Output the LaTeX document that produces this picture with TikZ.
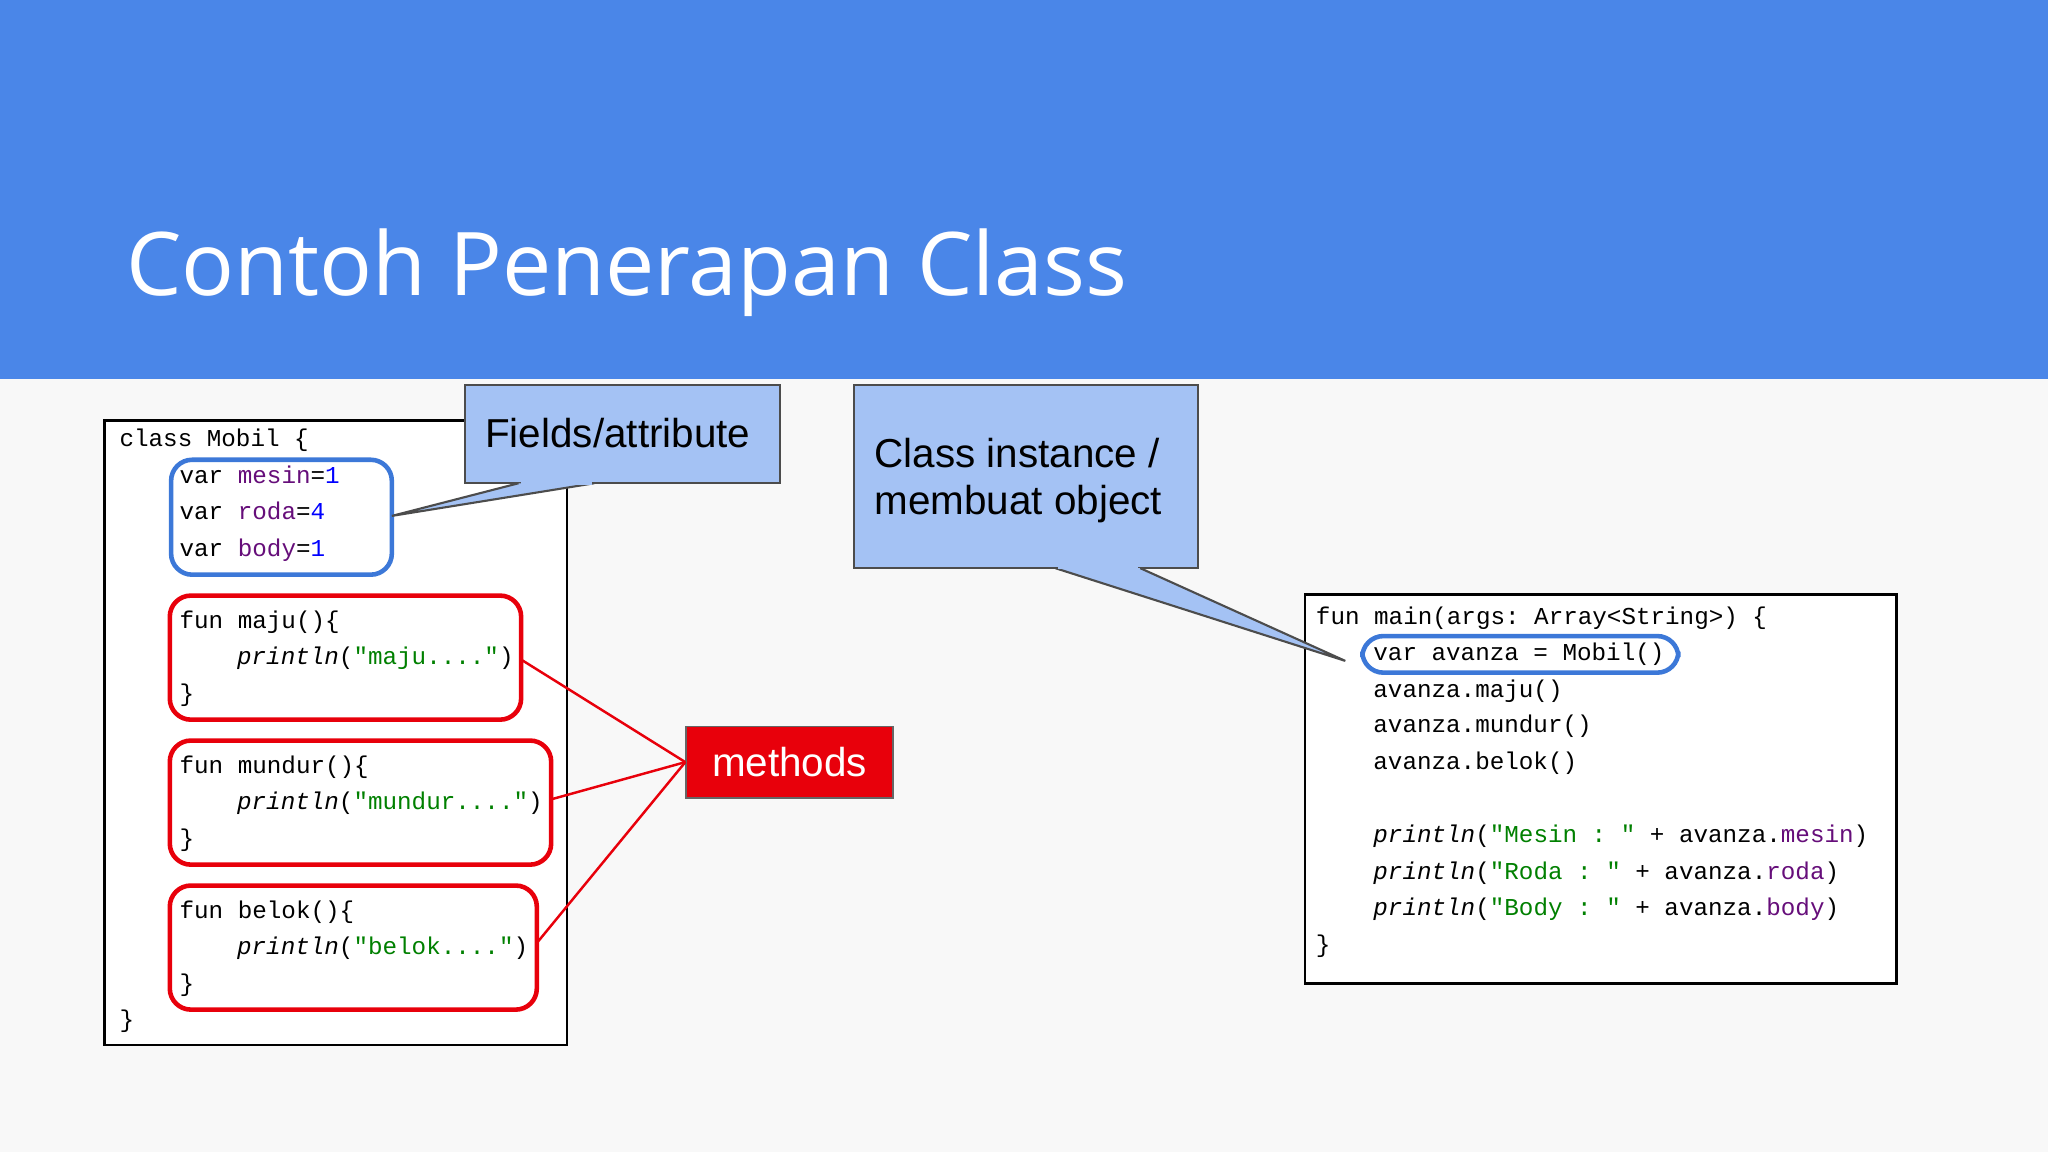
\documentclass[tikz,border=0pt]{standalone}
\usepackage{fontspec}
\setmainfont{Liberation Sans}
\setmonofont{Liberation Mono}
\newfontfamily\titlefont{Open Sans}
\definecolor{hdr}{HTML}{4A86E8}
\definecolor{bg}{HTML}{F8F8F8}
\definecolor{call}{HTML}{A4C2F4}
\definecolor{fld}{HTML}{660E7A}
\definecolor{str}{HTML}{008000}
\definecolor{redb}{HTML}{E8000B}
\definecolor{blueb}{HTML}{3C78D8}
\begin{document}
\begin{tikzpicture}[x=0.013061cm,y=-0.013061cm,
  code/.style={anchor=base west,inner sep=0pt,font=\ttfamily\fontsize{6.9}{8}\selectfont},
  rbox/.style={draw=redb,line width=1.3pt,rounded corners=6pt},
  bbox/.style={draw=blueb,line width=1.3pt,rounded corners=6pt},
  callbox/.style={draw=black!70,fill=call,line width=0.6pt},
  rline/.style={draw=redb,line width=0.7pt}]
\fill[bg] (0,0) rectangle (1568,882);
\useasboundingbox (0,0) rectangle (1568,882);
\fill[hdr] (0,0) rectangle (1568,290);
\node[anchor=base west,inner sep=0pt,text=white,font=\titlefont\fontsize{25}{30}\selectfont] (title) at (96,226) {Contoh Penerapan Class};
% left code
\draw[fill=white,line width=0.7pt] (80,322) rectangle (434,800);
\node[code] (l1) at (91,342) {class Mobil \{};
\node[code] (l2) at (137,370) {var \textcolor{fld}{mesin}=\textcolor{blue}{1}};
\node[code] (l3) at (137,398) {var \textcolor{fld}{roda}=\textcolor{blue}{4}};
\node[code] (l4) at (137,426) {var \textcolor{fld}{body}=\textcolor{blue}{1}};
\node[code] (l5) at (137,481) {fun maju()\{};
\node[code] (l6) at (181,509) {\textit{println}(\textcolor{str}{"maju...."})};
\node[code] (l7) at (137,537) {\}};
\node[code] (l8) at (137,592) {fun mundur()\{};
\node[code] (l9) at (181,620) {\textit{println}(\textcolor{str}{"mundur...."})};
\node[code] (l10) at (137,648) {\}};
\node[code] (l11) at (137,703) {fun belok()\{};
\node[code] (l12) at (181,731) {\textit{println}(\textcolor{str}{"belok...."})};
\node[code] (l13) at (137,759) {\}};
\node[code] (l14) at (91,787) {\}};
\draw[bbox] (131,352) rectangle (300,440);
\coordinate (fieldtip) at (300,395);
\draw[rbox] (130,456) rectangle (399,551);
\draw[rbox] (130,567) rectangle (422,662);
\draw[rbox] (130,678) rectangle (411,773);
\coordinate (m1) at (399,505);
\coordinate (m2) at (422,612);
\coordinate (m3) at (411,722);
% right code
\draw[fill=white,line width=0.7pt] (999,455) rectangle (1452,753);
\node[code] (r1) at (1007,478) {fun main(args: Array<String>) \{};
\node[code] (r2) at (1051,506) {var avanza = Mobil()};
\node[code] (r3) at (1051,534) {avanza.maju()};
\node[code] (r4) at (1051,561) {avanza.mundur()};
\node[code] (r5) at (1051,589) {avanza.belok()};
\node[code] (r6) at (1051,645) {\textit{println}(\textcolor{str}{"Mesin : "} + avanza.\textcolor{fld}{mesin})};
\node[code] (r7) at (1051,673) {\textit{println}(\textcolor{str}{"Roda : "} + avanza.\textcolor{fld}{roda})};
\node[code] (r8) at (1051,701) {\textit{println}(\textcolor{str}{"Body : "} + avanza.\textcolor{fld}{body})};
\node[code] (r9) at (1007,729) {\}};
\draw[bbox] (1043,487) rectangle (1285,515);
\coordinate (insttip) at (1030,506);
% callout fields
\coordinate (fa) at (397,370); \coordinate (fb) at (455,370);
\filldraw[callbox] (356,295) rectangle (597,370);
\filldraw[callbox] (fa) -- (fieldtip) -- (fb);
\fill[call] (399,368) rectangle (453,371);
\node[anchor=base west,inner sep=0pt,font=\fontsize{11.5}{14}\selectfont] (ftxt) at (371,343) {Fields/attribute};
% callout instance
\coordinate (ia) at (808,435); \coordinate (ib) at (873,435);
\filldraw[callbox] (654,295) rectangle (917,435);
\filldraw[callbox] (ia) -- (insttip) -- (ib);
\fill[call] (810,433) rectangle (871,436);
\node[anchor=north west,inner sep=0pt,align=left,font=\fontsize{11.5}{13.5}\selectfont] (itxt) at (669,335) {Class instance /\\membuat object};
% methods
\node[draw=black!60,fill=redb,text=white,minimum width=58.9pt,minimum height=20.4pt,inner sep=0pt,font=\fontsize{11.5}{14}\selectfont] (meth) at (604.5,583.5) {methods};
\draw[rline] (meth.west) -- (m1);
\draw[rline] (meth.west) -- (m2);
\draw[rline] (meth.west) -- (m3);
\end{tikzpicture}
\end{document}
